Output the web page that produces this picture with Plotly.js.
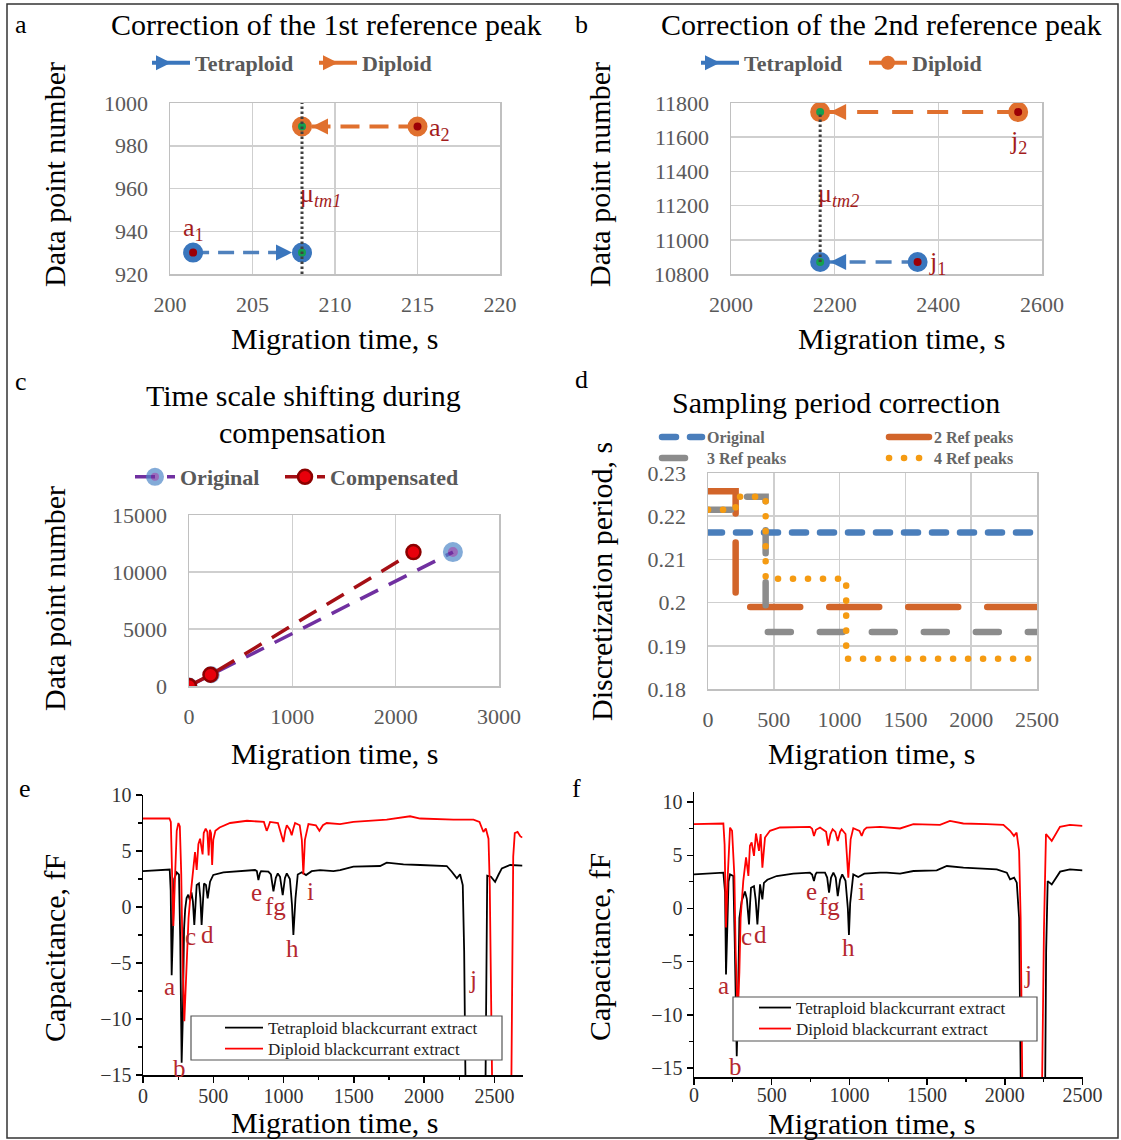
<!DOCTYPE html>
<html><head><meta charset="utf-8">
<script src="https://cdn.plot.ly/plotly-3.0.1.min.js"></script>
<style>
html,body{margin:0;padding:0;background:#fff;}
#chart{width:1121px;height:1140px;}
.subplot.x4y4 .js-line{stroke-linecap:round;}
.legend7 .js-line,.legend8 .js-line,.legend9 .js-line,.legend10 .js-line{stroke-linecap:round;}
</style>
</head><body><div id="chart"></div>
<script>
// ================= DATA =================
// Panel a: correction of the 1st reference peak
const aTetT=[201.4,208], aTetN=[930,930];
const aDipT=[215,208],   aDipN=[989,989];
const aMuT=[208,208],    aMuN=[920,1000];
// Panel b: correction of the 2nd reference peak
const bTetT=[2360,2172], bTetN=[10870,10870];
const bDipT=[2554,2172], bDipN=[11747,11747];
const bMuT=[2172,2172],  bMuN=[10870,11747];
// Panel c: time scale shifting
const cOrigT=[0,215,2554], cOrigN=[0,989,11747];
const cCompT=[0,208,2172], cCompN=[0,989,11747];
// Panel d: sampling period correction
const dOrigT=[0,2500], dOrigV=[0.2162,0.2162];
const d2T=[0,210,210,2500], d2V=[0.2258,0.2258,0.199,0.199];
const d3T=[0,210,210,438,438,2500], d3V=[0.2215,0.2215,0.2245,0.2245,0.1932,0.1932];
const d4T=[0,210,210,438,438,1050,1050,2500], d4V=[0.2215,0.2215,0.2245,0.2245,0.2055,0.2055,0.187,0.187];
// Panel e: original electropherograms
const eTetT=[0,100,190,197,204,212,222,240,256,265,275,283,292,300,310,322,334,345,355,365,374,382,398,408,417,426,434,448,460,477,500,572,690,797,810,821,832,840,892,910,928,945,959,975,994,1010,1023,1045,1060,1070,1085,1101,1130,1160,1200,1260,1355,1402,1497,1687,1734,1853,1972,2161,2197,2233,2256,2275,2285,2298,2434,2442,2449,2475,2505,2530,2553,2612,2700];
const eTetC=[3.2,3.25,3.35,1.5,-6.1,-2.5,2.5,3.1,2.9,-3,-13.9,-10,-2,-0.2,0.8,1.1,0.6,1.3,0.5,-1.6,0.9,1.96,2.1,0.8,-1.6,0.9,2.1,1.96,0.77,2.26,2.86,3.1,3.2,3.3,3.2,2.4,3.0,3.2,3.15,2.9,1.4,2.6,3.0,2.7,1.07,2.6,3.0,2.5,0.2,-2.5,0.8,2.9,3.1,2.85,3.2,3.3,3.2,3.3,3.6,3.66,3.96,3.8,3.75,3.66,3.15,2.56,2.92,1.96,-4,-20,-20,-6,2.8,2.7,2.25,2.9,3.45,3.75,3.7];
const eDipT=[0,100,188,198,206,216,226,240,252,262,272,282,294,304,314,324,334,346,358,370,382,394,406,416,424,432,446,458,467,476,484,492,500,515,545,620,740,860,872,880,890,904,960,985,999,1012,1023,1045,1058,1070,1082,1115,1130,1141,1152,1177,1230,1255,1280,1307,1402,1497,1616,1734,1900,1972,2209,2351,2394,2410,2422,2439,2458,2467,2478,2488,2618,2626,2634,2645,2665,2685,2700];
const eDipC=[7.9,7.9,7.9,7.6,4,-1.7,2,6.8,7.5,7.2,3,-5,-10.2,-7,-3.5,-1,0.5,2.2,3.7,4.9,3.3,5.6,6.1,5.2,4.7,6.6,7.0,6.7,4.6,6.9,6.6,3.75,6.0,6.8,7.1,7.5,7.7,7.6,7.0,6.8,7.1,7.6,7.5,6.5,5.8,6.8,7.3,6.9,6.4,7.0,7.5,7.3,6.0,2.9,6.0,7.4,7.3,6.8,7.3,7.5,7.4,7.6,7.7,7.8,8.1,7.9,7.8,7.8,7.6,7.0,6.7,7.0,6.1,2,-8,-20,-20,-5,4.5,6.6,6.7,6.3,6.2];
// Panel f: compensated electropherograms
const fTetT=[0,100,189,200,206,214,222,232,253,262,275,283,292,307,328,340,354,361,367,386,397,408,416,425,440,450,472,532,639,746,760,772,782,789,843,857,869,882,897,912,925,940,954,975,990,997,1005,1025,1057,1096,1197,1240,1326,1412,1562,1627,1734,1948,2013,2034,2060,2077,2092,2105,2258,2266,2276,2302,2356,2419,2500];
const fTetC=[3.2,3.25,3.36,1.5,-6.2,-2,2.5,3.2,3.05,-3,-13.9,-9,-0.9,0.7,1.6,0.9,-1.5,0.5,1.95,2.1,0.8,-1.5,0.8,2.26,0.85,2.4,2.7,3.05,3.27,3.36,3.2,2.57,3.2,3.36,3.36,2.9,1.48,2.9,3.36,2.9,1.16,2.7,3.2,2.6,0,-2.5,0.5,3.2,2.95,3.27,3.36,3.36,3.27,3.52,3.58,3.99,3.84,3.68,3.36,2.74,2.9,2.42,-0.9,-20,-20,-4,2.57,2.26,3.46,3.68,3.58];
const fDipT=[0,100,189,197,206,217,232,245,260,268,281,292,300,317,335,350,360,371,386,399,418,429,440,457,489,553,661,746,760,772,785,811,850,864,878,892,910,925,940,950,975,993,1008,1025,1065,1079,1095,1111,1197,1240,1326,1412,1583,1647,1733,1883,1991,2034,2059,2076,2092,2102,2115,2237,2252,2265,2302,2355,2419,2500];
const fDipC=[7.92,7.95,7.99,6,-1.8,3,7.6,7.3,3,-4,-10.2,-6,-0.9,2.57,4.8,3.05,5.9,6.2,4.94,7.05,5.41,7.0,3.84,6.67,7.3,7.61,7.67,7.67,7.5,6.82,7.4,7.61,7.2,5.9,7.0,7.45,7.2,6.35,7.2,7.45,7.0,2.89,6.5,7.55,7.3,6.82,7.4,7.61,7.67,7.61,7.52,7.92,7.86,8.24,7.99,7.92,7.86,7.3,6.82,7.14,5.41,-0.9,-20,-20,-2,7.0,6.35,7.67,7.86,7.77];
// Peak labels
const peakNames=['a','b','c','d','e','fg','h','i','j'];
const eLabT=[187,263,335,458,809,944,1065,1189,2351];
const eLabC=[-7.1,-14.4,-2.65,-2.5,1.3,0.03,-3.7,1.4,-6.5];
const fLabT=[189,270,339,425,753,871,993,1079,2149];
const fLabC=[-7.2,-14.9,-2.6,-2.45,1.6,0.2,-3.7,1.6,-6.2];

// ================= STYLE =================
const FONT='"Liberation Serif","Times New Roman",serif';
const W=1121,H=1140;
const px=v=>v/W, py=v=>1-v/H;
const BLUE='#3a76bd', BLUEL='#4f81bd', ORANGE='#e0702e', DKRED='#9c0006', GREEN='#14a050';
const LABRED='#a31c1c';

function exAx(d0,d1,range,dtick,anchor,isY){
  return {domain:[d0,d1],range:range,dtick:dtick,tick0:range[0],anchor:anchor,
    showline:true,mirror:true,linecolor:'#c0c0c0',linewidth:1.5,
    showgrid:true,gridcolor:'#cfcfcf',gridwidth:1.5,zeroline:false,ticks:'',
    tickfont:{family:FONT,size:22,color:'#595959'},exponentformat:'none',separatethousands:false,
    tickformat: dtick>=1 ? 'd' : '',
    ticklabelstandoff:isY?16:10,fixedrange:true};
}
function orAx(d0,d1,range,dtick,mdtick,anchor,standoff){
  return {domain:[d0,d1],range:range,dtick:dtick,tick0:0,anchor:anchor,
    showline:true,mirror:false,linecolor:'#000',linewidth:1.5,
    ticks:'outside',ticklen:6,tickwidth:1.5,tickcolor:'#000',
    minor:{ticks:'outside',ticklen:3.5,tickwidth:1.2,tickcolor:'#000',dtick:mdtick,showgrid:false},
    ticklabelstandoff:standoff,
    showgrid:false,zeroline:false,tickfont:{family:FONT,size:20,color:'#333'},fixedrange:true};
}
function lg(textX,cy,iw,size,bold,color){
  return {x:px(textX-iw-10),y:py(cy),xanchor:'left',yanchor:'middle',bgcolor:'rgba(0,0,0,0)',
    borderwidth:0,itemwidth:iw,orientation:'v',
    font:{family:FONT,size:size,color:color,weight:bold?'bold':'normal'}};
}

const traces=[];
function T(o){traces.push(Object.assign({type:'scatter',hoverinfo:'skip',showlegend:false},o));}

// ---- Panel a ----
T({x:aTetT,y:aTetN,mode:'lines',line:{color:BLUEL,width:3.5,dash:'16px,9px'}});
T({x:aDipT,y:aDipN,mode:'lines',line:{color:ORANGE,width:4,dash:'19px,10px'}});
T({x:[aTetT[1]],y:[aTetN[1]],mode:'markers',marker:{symbol:'arrow-up',angle:90,standoff:10,size:16,color:BLUE}});
T({x:[aDipT[1]],y:[aDipN[1]],mode:'markers',marker:{symbol:'arrow-up',angle:-90,standoff:10,size:16,color:ORANGE}});
T({x:aTetT,y:aTetN,mode:'markers',marker:{size:14,color:[DKRED,GREEN],line:{color:BLUE,width:6}}});
T({x:aDipT,y:aDipN,mode:'markers',marker:{size:14,color:[DKRED,GREEN],line:{color:ORANGE,width:6}}});
T({x:aMuT,y:aMuN,mode:'lines',line:{color:'#404040',width:3,dash:'2.5px,2.5px'}});
T({x:[null],y:[null],mode:'lines+markers',name:'Tetraploid',showlegend:true,legend:'legend',line:{color:BLUE,width:4},marker:{symbol:'arrow-right',size:15,color:BLUE}});
T({x:[null],y:[null],mode:'lines+markers',name:'Diploid',showlegend:true,legend:'legend2',line:{color:ORANGE,width:4},marker:{symbol:'arrow-right',size:15,color:ORANGE}});

// ---- Panel b ----
const xb={xaxis:'x2',yaxis:'y2'};
T(Object.assign({x:bTetT,y:bTetN,mode:'lines',line:{color:BLUEL,width:3.5,dash:'16px,10px'}},xb));
T(Object.assign({x:bDipT,y:bDipN,mode:'lines',line:{color:ORANGE,width:4,dash:'21px,14px'}},xb));
T(Object.assign({x:[bTetT[1]],y:[bTetN[1]],mode:'markers',marker:{symbol:'arrow-up',angle:-90,standoff:10,size:16,color:BLUE}},xb));
T(Object.assign({x:[bDipT[1]],y:[bDipN[1]],mode:'markers',marker:{symbol:'arrow-up',angle:-90,standoff:10,size:16,color:ORANGE}},xb));
T(Object.assign({x:bTetT,y:bTetN,mode:'markers',marker:{size:14,color:[DKRED,GREEN],line:{color:BLUE,width:6}}},xb));
T(Object.assign({x:bDipT,y:bDipN,mode:'markers',marker:{size:14,color:[DKRED,GREEN],line:{color:ORANGE,width:6}}},xb));
T(Object.assign({x:bMuT,y:bMuN,mode:'lines',line:{color:'#404040',width:3,dash:'2.5px,2.5px'}},xb));
T(Object.assign({x:[null],y:[null],mode:'lines+markers',name:'Tetraploid',showlegend:true,legend:'legend3',line:{color:BLUE,width:4},marker:{symbol:'arrow-right',size:15,color:BLUE}},xb));
T(Object.assign({x:[null],y:[null],mode:'lines+markers',name:'Diploid',showlegend:true,legend:'legend4',line:{color:ORANGE,width:4},marker:{symbol:'circle',size:14,color:ORANGE}},xb));

// ---- Panel c ----
const xc={xaxis:'x3',yaxis:'y3'};
T(Object.assign({x:cOrigT,y:cOrigN,mode:'lines+markers',name:'Original',showlegend:true,legend:'legend5',
  line:{color:'#7030a0',width:3.5,dash:'20px,12px'},marker:{size:[12,12,15],color:'#7030a0',line:{color:'#4f88c8',width:5}}},xc));
T(Object.assign({x:cCompT,y:cCompN,mode:'lines+markers',name:'Compensated',showlegend:true,legend:'legend6',
  line:{color:'#a50f15',width:3.5,dash:'20px,12px'},marker:{size:14,color:'#e8000b',line:{color:'#8b0000',width:2.5}}},xc));

// ---- Panel d ----
const xd={xaxis:'x4',yaxis:'y4'};
T(Object.assign({x:dOrigT,y:dOrigV,mode:'lines',name:'Original',showlegend:true,legend:'legend7',line:{color:'#4a7ebb',width:6.5,dash:'14px,14px'}},xd));
T(Object.assign({x:d2T,y:d2V,mode:'lines',name:'2 Ref peaks',showlegend:true,legend:'legend8',line:{color:'#d2652a',width:6.5,dash:'50px,29px'}},xd));
T(Object.assign({x:d3T,y:d3V,mode:'lines',name:'3 Ref peaks',showlegend:true,legend:'legend9',line:{color:'#8c8c8c',width:6.5,dash:'23px,29px'}},xd));
T(Object.assign({x:d4T,y:d4V,mode:'lines',name:'4 Ref peaks',showlegend:true,legend:'legend10',line:{color:'#f59b12',width:6.5,dash:'0.1px,14.9px'}},xd));

// ---- Panel e ----
const xe={xaxis:'x5',yaxis:'y5'};
T(Object.assign({x:eTetT,y:eTetC,mode:'lines',name:'Tetraploid blackcurrant extract',showlegend:true,legend:'legend11',line:{color:'#000',width:1.8}},xe));
T(Object.assign({x:eDipT,y:eDipC,mode:'lines',name:'Diploid blackcurrant extract',showlegend:true,legend:'legend12',line:{color:'#ff0000',width:1.8}},xe));
// ---- Panel f ----
const xf={xaxis:'x6',yaxis:'y6'};
T(Object.assign({x:fTetT,y:fTetC,mode:'lines',name:'Tetraploid blackcurrant extract',showlegend:true,legend:'legend13',line:{color:'#000',width:1.8}},xf));
T(Object.assign({x:fDipT,y:fDipC,mode:'lines',name:'Diploid blackcurrant extract',showlegend:true,legend:'legend14',line:{color:'#ff0000',width:1.8}},xf));

// ================= ANNOTATIONS =================
const ann=[];
function A(text,x,y,o){ann.push(Object.assign({text:text,x:px(x),y:py(y),xref:'paper',yref:'paper',showarrow:false,
  xanchor:'center',yanchor:'middle',font:{family:FONT,size:30,color:'#000'}},o||{}));}
// panel letters
[['a',21,25],['b',581,25],['c',21,381],['d',581,380],['e',25,788],['f',576,788]].forEach(p=>A(p[0],p[1],p[2],{font:{family:FONT,size:26,color:'#000'}}));
// titles
A('Correction of the 1st reference peak',326,25);
A('Correction of the 2nd reference peak',881,25);
A('Time scale shifting during',303,395);
A('compensation',302,432);
A('Sampling period correction',836,402);
// axis titles
A('Migration time, s',334,338); A('Migration time, s',901,338);
A('Migration time, s',334,753); A('Migration time, s',871,753);
A('Migration time, s',334,1122); A('Migration time, s',871,1123);
A('Data point number',54,175,{textangle:-90});
A('Data point number',599,175,{textangle:-90});
A('Data point number',54,599,{textangle:-90});
A('Discretization period, s',601,582,{textangle:-90});
A('Capacitance, fF',54,948,{textangle:-90});
A('Capacitance, fF',599,947,{textangle:-90});
// point labels in a / b
function D(text,x,y,xr,yr,o){ann.push(Object.assign({text:text,x:x,y:y,xref:xr,yref:yr,showarrow:false,xanchor:'center',yanchor:'middle',
  font:{family:FONT,size:26,color:LABRED}},o||{}));}
D('a<sub>1</sub>',aTetT[0],941,'x','y');
D('a<sub>2</sub>',aDipT[0],988,'x','y',{xanchor:'left',xshift:9});
D('μ<sub><i>tm1</i></sub>',aMuT[0],957,'x','y',{xanchor:'left',xshift:-4});
D('j<sub>2</sub>',bDipT[0],11572,'x2','y2');
D('j<sub>1</sub>',bTetT[0],10866,'x2','y2',{xanchor:'left',xshift:9});
D('μ<sub><i>tm2</i></sub>',bMuT[0],11262,'x2','y2',{xanchor:'left',xshift:-4});
// peak labels in e / f
peakNames.forEach((n,i)=>{
  D(n,eLabT[i],eLabC[i],'x5','y5',{font:{family:FONT,size:25,color:'#b5282e'}});
  D(n,fLabT[i],fLabC[i],'x6','y6',{font:{family:FONT,size:25,color:'#b5282e'}});
});

// ================= SHAPES =================
const shapes=[
  {type:'rect',xref:'paper',yref:'paper',x0:px(191),x1:px(502),y0:py(1060),y1:py(1016),fillcolor:'#fff',line:{color:'#555',width:1.2},layer:'above'},
  {type:'rect',xref:'paper',yref:'paper',x0:px(733),x1:px(1037),y0:py(1041),y1:py(997),fillcolor:'#fff',line:{color:'#555',width:1.2},layer:'above'},
  {type:'rect',xref:'paper',yref:'paper',x0:px(7),x1:px(1118),y0:py(1138),y1:py(4),line:{color:'#333',width:1.5},layer:'above'}
];

const layout={
  width:W,height:H,margin:{l:0,r:0,t:0,b:0},paper_bgcolor:'#fff',plot_bgcolor:'#fff',
  font:{family:FONT,size:20,color:'#000'},showlegend:true,hovermode:false,
  xaxis: exAx(px(170),px(500),[200,220],5,'y',false),
  yaxis: exAx(py(274),py(103),[920,1000],20,'x',true),
  xaxis2:exAx(px(731),px(1042),[2000,2600],200,'y2',false),
  yaxis2:exAx(py(274),py(103),[10800,11800],200,'x2',true),
  xaxis3:exAx(px(189),px(499),[0,3000],1000,'y3',false),
  yaxis3:exAx(py(686),py(515),[0,15000],5000,'x3',true),
  xaxis4:exAx(px(708),px(1037),[0,2500],500,'y4',false),
  yaxis4:exAx(py(689),py(473),[0.18,0.23],0.01,'x4',true),
  xaxis5:orAx(px(143),px(522.5),[0,2700],500,250,'y5',-4),
  yaxis5:orAx(py(1075),py(795),[-15,10],5,2.5,'x5',0),
  xaxis6:orAx(px(694),px(1082.5),[0,2500],500,250,'y6',-7),
  yaxis6:orAx(py(1077),py(792),[-15.85,10.95],5,2.5,'x6',0),
  legend:  lg(195,63,38,22,true,'#595959'),
  legend2: lg(362,63,38,22,true,'#595959'),
  legend3: lg(744,63,38,22,true,'#595959'),
  legend4: lg(912,63,38,22,true,'#595959'),
  legend5: lg(180,477,40,22,true,'#595959'),
  legend6: lg(330,477,40,22,true,'#595959'),
  legend7: lg(707,437,40,16,true,'#666'),
  legend8: lg(934,437,40,16,true,'#666'),
  legend9: lg(707,458,40,16,true,'#666'),
  legend10:lg(934,458,40,16,true,'#666'),
  legend11:lg(268,1028,38,17,false,'#222'),
  legend12:lg(268,1049,38,17,false,'#222'),
  legend13:lg(796,1008,32,17,false,'#222'),
  legend14:lg(796,1029,32,17,false,'#222'),
  annotations:ann,shapes:shapes
};
Plotly.newPlot('chart',traces,layout,{staticPlot:true,displayModeBar:false});
</script></body></html>
